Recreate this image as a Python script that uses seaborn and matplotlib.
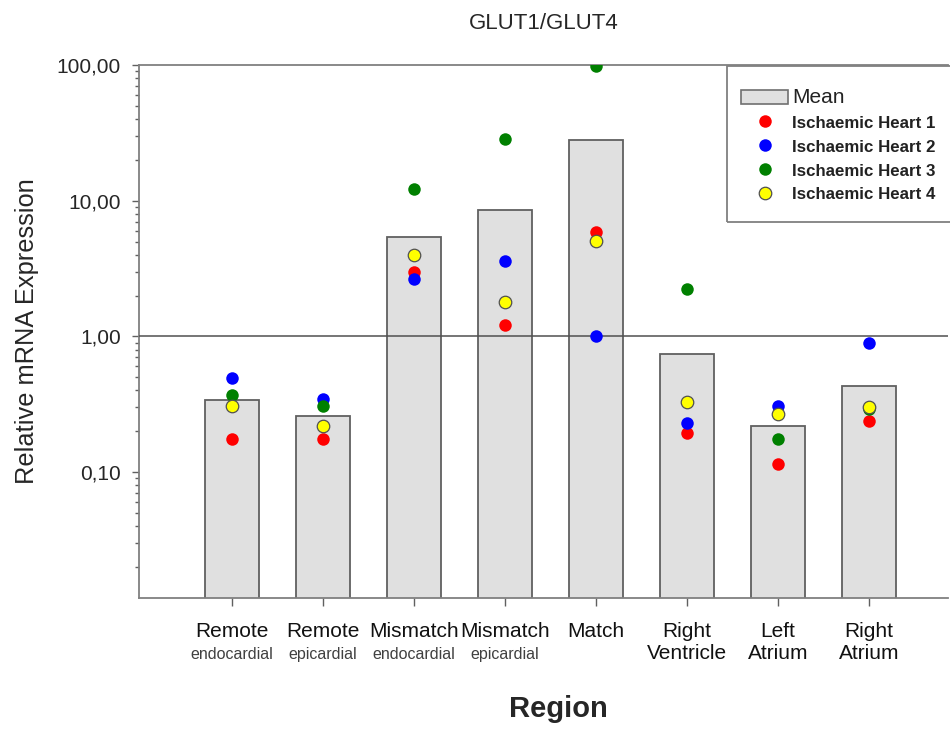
import matplotlib
matplotlib.use("Agg")
import matplotlib.pyplot as plt
import matplotlib.transforms as mtransforms
from matplotlib.patches import Patch, Rectangle
from matplotlib.lines import Line2D
from matplotlib.ticker import FixedLocator, LogLocator, NullFormatter
import seaborn as sns

# Regions (unique keys) and their two-line captions
regions = ["Remote endo", "Remote epi", "Mismatch endo", "Mismatch epi",
           "Match", "Right Ventricle", "Left Atrium", "Right Atrium"]
region_main = ["Remote", "Remote", "Mismatch", "Mismatch", "Match",
               "Right\nVentricle", "Left\nAtrium", "Right\nAtrium"]
region_sub = ["endocardial", "epicardial", "endocardial", "epicardial",
              "", "", "", ""]

# Mean relative expression per region
mean_expr = [0.338, 0.257, 5.37, 8.53, 27.8, 0.737, 0.217, 0.43]

# Individual hearts
heart1 = [0.174, 0.174, 2.96, 1.22, 5.87, 0.195, 0.115, 0.238]
heart2 = [0.49, 0.343, 2.67, 3.57, 1.00, 0.231, 0.306, 0.90]
heart3 = [0.37, 0.306, 12.1, 28.3, 98.0, 2.25, 0.174, 0.293]
heart4 = [0.306, 0.218, 3.95, 1.78, 5.04, 0.328, 0.269, 0.303]

heart_labels = ["Ischaemic Heart 1", "Ischaemic Heart 2",
                "Ischaemic Heart 3", "Ischaemic Heart 4"]
heart_colors = ["#ff0000", "#0000ff", "#008000", "#ffff00"]

ytick_vals = [0.1, 1, 10, 100]
ytick_labels = ["0,10", "1,00", "10,00", "100,00"]

sns.set_theme(style="white")
plt.rcParams["font.family"] = ["Liberation Sans", "DejaVu Sans"]

fig = plt.figure(figsize=(9.5, 7.29), dpi=100)
W, H = 950, 729
ax = fig.add_axes([139 / W, 1 - 598 / H, (948 - 139) / W, (598 - 65) / H])

sns.barplot(x=regions, y=mean_expr, order=regions, color="#e0e0e0",
            saturation=1, edgecolor="#606060", linewidth=1.3, width=0.6,
            ax=ax, zorder=2)

for vals, col in zip([heart1, heart2, heart3, heart4], heart_colors):
    is_yellow = col == "#ffff00"
    sns.stripplot(x=regions, y=vals, order=regions, jitter=False, color=col,
                  size=9, linewidth=0.9 if is_yellow else 0,
                  edgecolor="#505050", ax=ax, zorder=4)

ax.set_yscale("log")
ax.set_ylim(0.0118, 100)
ax.set_xlim(-1.02, 7.87)

ax.axhline(1.0, color="#505050", lw=1.1, zorder=3)

# axes styling
for side in ["left", "bottom", "top"]:
    ax.spines[side].set_visible(True)
    ax.spines[side].set_color("#808080")
    ax.spines[side].set_linewidth(1.3)
ax.spines["right"].set_visible(False)

ax.yaxis.set_major_locator(FixedLocator(ytick_vals))
ax.set_yticklabels(ytick_labels)
ax.yaxis.set_minor_locator(LogLocator(base=10, subs=range(2, 10)))
ax.yaxis.set_minor_formatter(NullFormatter())
ax.tick_params(axis="y", which="major", direction="out", length=5, width=1,
               color="#606060", labelsize=15, pad=8, left=True)
ax.tick_params(axis="y", which="minor", direction="out", length=3, width=1,
               color="#606060", left=True)

ax.set_xticks(range(len(regions)))
ax.set_xticklabels(region_main, fontsize=15, linespacing=1.25)
ax.tick_params(axis="x", direction="out", length=6, width=1,
               color="#606060", pad=11, bottom=True)
for t in ax.get_xticklabels():
    t.set_color("#111111")

trans = mtransforms.blended_transform_factory(ax.transData, ax.transAxes)
for i, sub in enumerate(region_sub):
    if sub:
        ax.text(i, -0.106, sub, transform=trans, ha="center", va="center",
                fontsize=11.5, color="#404040")

ax.set_xlabel("Region", fontsize=21, fontweight="bold")
ax.xaxis.set_label_coords((558 - 139) / 809, -(709 - 598) / 533)
ax.xaxis.label.set_va("center")
ax.set_ylabel("Relative mRNA Expression", fontsize=18.3, labelpad=13)
ax.set_title("GLUT1/GLUT4", fontsize=16, pad=26)

# legend box outline, running off the right edge of the figure
fig.patches.append(Rectangle((727 / W, 1 - 222 / H), 240 / W, (222 - 66) / H,
                             transform=fig.transFigure, fill=False,
                             edgecolor="#808080", linewidth=1.3, zorder=5))

handles = [Patch(facecolor="#e0e0e0", edgecolor="#707070", linewidth=1.2)]
for col in heart_colors:
    handles.append(Line2D([], [], ls="", marker="o", markersize=9,
                          markerfacecolor=col,
                          markeredgecolor="#505050" if col == "#ffff00" else col,
                          markeredgewidth=0.9 if col == "#ffff00" else 0))
leg = ax.legend(handles, ["Mean"] + heart_labels,
                loc="upper left",
                bbox_to_anchor=(734 / W, 1 - 81 / H),
                bbox_transform=fig.transFigure, borderaxespad=0,
                frameon=False, handlelength=2.8,
                handleheight=0.95, handletextpad=0.25, labelspacing=0.46,
                borderpad=0.4, prop={"size": 12.2, "weight": "bold"})
texts = leg.get_texts()
texts[0].set_fontsize(15)
texts[0].set_fontweight("normal")
for t in texts:
    t.set_color("#222222")

fig.savefig("out.png", dpi=100)
